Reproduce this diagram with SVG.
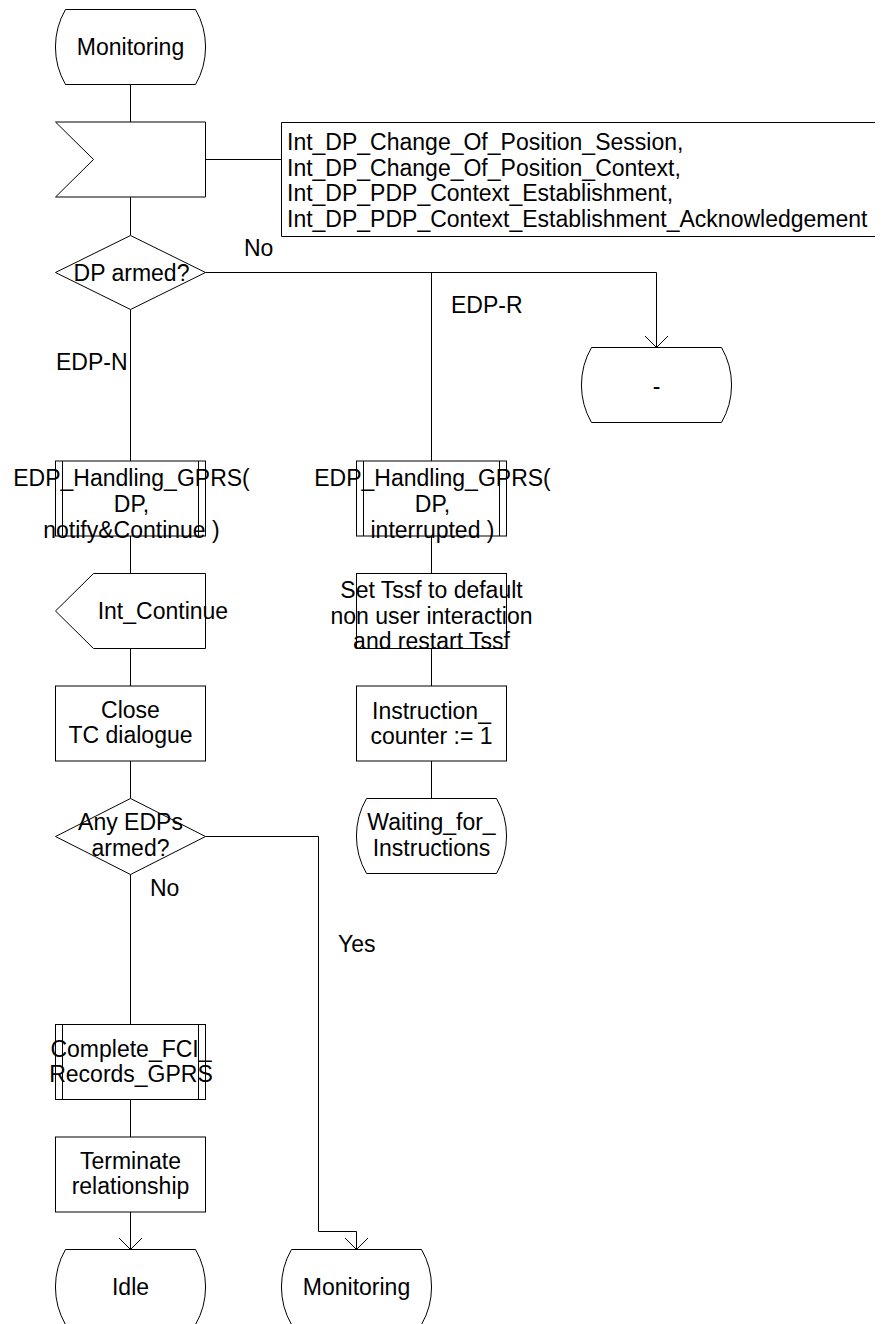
<svg xmlns="http://www.w3.org/2000/svg" width="888" height="1324" viewBox="0 0 888 1324">
<style>
.s{fill:#fff;stroke:#000;stroke-width:1}
.l{fill:none;stroke:#000;stroke-width:1}
text{font-family:"Liberation Sans",Arial,sans-serif;font-size:23px;fill:#000}
.c{text-anchor:middle}
</style>
<defs>
<marker id="arr" markerWidth="24" markerHeight="24" refX="12" refY="12" orient="auto" markerUnits="userSpaceOnUse">
<path d="M0.5,0.5 L12,12 L0.5,23.5" fill="none" stroke="#000" stroke-width="1"/>
</marker>
</defs>
<rect width="888" height="1324" fill="#fff"/>

<g id="connectors">
<path class="l" d="M130.5,84.5 V122"/>
<path class="l" d="M130.5,197 V235.5"/>
<path class="l" d="M205.5,159.5 H281.5"/>
<path class="l" d="M130.5,309.5 V461"/>
<path class="l" d="M205.5,272.5 H656.5 V347.5" marker-end="url(#arr)"/>
<path class="l" d="M431.5,272.5 V461"/>
<path class="l" d="M130.5,536 V573.5"/>
<path class="l" d="M130.5,648.5 V686"/>
<path class="l" d="M130.5,761 V798.5"/>
<path class="l" d="M130.5,874.5 V1024.5"/>
<path class="l" d="M130.5,1099.5 V1137"/>
<path class="l" d="M130.5,1212 V1249.5" marker-end="url(#arr)"/>
<path class="l" d="M205.5,836.5 H318.5 V1231.5 H356.5 V1249.5" marker-end="url(#arr)"/>
<path class="l" d="M431.5,536 V573.5"/>
<path class="l" d="M431.5,648.5 V686"/>
<path class="l" d="M431.5,761 V798.5"/>
<text x="244" y="256">No</text>
<text x="451" y="313">EDP-R</text>
<text x="56" y="370">EDP-N</text>
<text x="150" y="895.5">No</text>
<text x="338" y="951.5">Yes</text>
</g>

<g id="start_monitoring">
<path class="s" d="M65.5,9.5 H195.5 A75,75 0 0 1 195.5,84.5 H65.5 A75,75 0 0 1 65.5,9.5 Z"/>
<text class="c" x="130.5" y="55">Monitoring</text>
</g>

<g id="input_signals">
<polygon class="s" points="55.5,122 205.5,122 205.5,197 55.5,197 93.5,159.5"/>
</g>

<g id="signal_list">
<path class="l" d="M875,122.5 H281.5 V236.5 H875"/>
<text x="287" y="150">Int_DP_Change_Of_Position_Session,</text>
<text x="287" y="175.5">Int_DP_Change_Of_Position_Context,</text>
<text x="287" y="201">Int_DP_PDP_Context_Establishment,</text>
<text x="287" y="226.5">Int_DP_PDP_Context_Establishment_Acknowledgement</text>
</g>

<g id="dp_armed">
<polygon class="s" points="55.5,272.5 130.5,235.5 205.5,272.5 130.5,309.5"/>
<text class="c" x="131.5" y="280.5">DP armed?</text>
</g>

<g id="state_dash">
<path class="s" d="M591.5,347.5 H721.5 A75,75 0 0 1 721.5,422.5 H591.5 A75,75 0 0 1 591.5,347.5 Z"/>
<text class="c" x="656.5" y="394">-</text>
</g>

<g id="edp_handling_n">
<rect class="s" x="55.5" y="461" width="150" height="75"/>
<path class="l" d="M62.5,461 V536 M198.5,461 V536"/>
<text class="c" x="131.5" y="485.7">EDP_Handling_GPRS(</text>
<text class="c" x="131.5" y="511.9">DP,</text>
<text class="c" x="131.5" y="538.1">notify&amp;Continue )</text>
</g>

<g id="edp_handling_r">
<rect class="s" x="356.5" y="461" width="150" height="75"/>
<path class="l" d="M363.5,461 V536 M499.5,461 V536"/>
<text class="c" x="432.5" y="485.7">EDP_Handling_GPRS(</text>
<text class="c" x="432.5" y="511.9">DP,</text>
<text class="c" x="432.5" y="538.1">interrupted )</text>
</g>

<g id="int_continue">
<polygon class="s" points="93.5,573.5 205.5,573.5 205.5,648.5 93.5,648.5 55.5,611"/>
<text x="97.7" y="619.2">Int_Continue</text>
</g>

<g id="set_tssf">
<rect class="s" x="356.5" y="573.5" width="150" height="75"/>
<text class="c" x="431.5" y="598.2">Set Tssf to default</text>
<text class="c" x="431.5" y="623.6">non user interaction</text>
<text class="c" x="431.5" y="649">and restart Tssf</text>
</g>

<g id="close_tc">
<rect class="s" x="55.5" y="686" width="150" height="75"/>
<text class="c" x="130.5" y="718.2">Close</text>
<text class="c" x="130.5" y="743">TC dialogue</text>
</g>

<g id="instruction_counter">
<rect class="s" x="356.5" y="686" width="150" height="75"/>
<text class="c" x="431.5" y="719">Instruction_</text>
<text class="c" x="431.5" y="743.5">counter := 1</text>
</g>

<g id="waiting_for_instructions">
<path class="s" d="M366.5,798.5 H496.5 A75,75 0 0 1 496.5,873.5 H366.5 A75,75 0 0 1 366.5,798.5 Z"/>
<text class="c" x="431.5" y="830">Waiting_for_</text>
<text class="c" x="431.5" y="855.5">Instructions</text>
</g>

<g id="any_edps_armed">
<polygon class="s" points="55.5,836.5 130.5,798.5 205.5,836.5 130.5,874.5"/>
<text class="c" x="130.5" y="830">Any EDPs</text>
<text class="c" x="130.5" y="855.5">armed?</text>
</g>

<g id="complete_fci">
<rect class="s" x="55.5" y="1024.5" width="150" height="75"/>
<path class="l" d="M62.5,1024.5 V1099.5 M198.5,1024.5 V1099.5"/>
<text class="c" x="131" y="1056.5">Complete_FCI_</text>
<text class="c" x="131" y="1082">Records_GPRS</text>
</g>

<g id="terminate">
<rect class="s" x="55.5" y="1137" width="150" height="75"/>
<text class="c" x="130.5" y="1169.2">Terminate</text>
<text class="c" x="130.5" y="1194.4">relationship</text>
</g>

<g id="idle">
<path class="s" d="M65.5,1249.5 H195.5 A75,75 0 0 1 195.5,1324.5 H65.5 A75,75 0 0 1 65.5,1249.5 Z"/>
<text class="c" x="130.5" y="1295">Idle</text>
</g>

<g id="end_monitoring">
<path class="s" d="M291.5,1249.5 H421.5 A75,75 0 0 1 421.5,1324.5 H291.5 A75,75 0 0 1 291.5,1249.5 Z"/>
<text class="c" x="356.5" y="1295">Monitoring</text>
</g>
</svg>
